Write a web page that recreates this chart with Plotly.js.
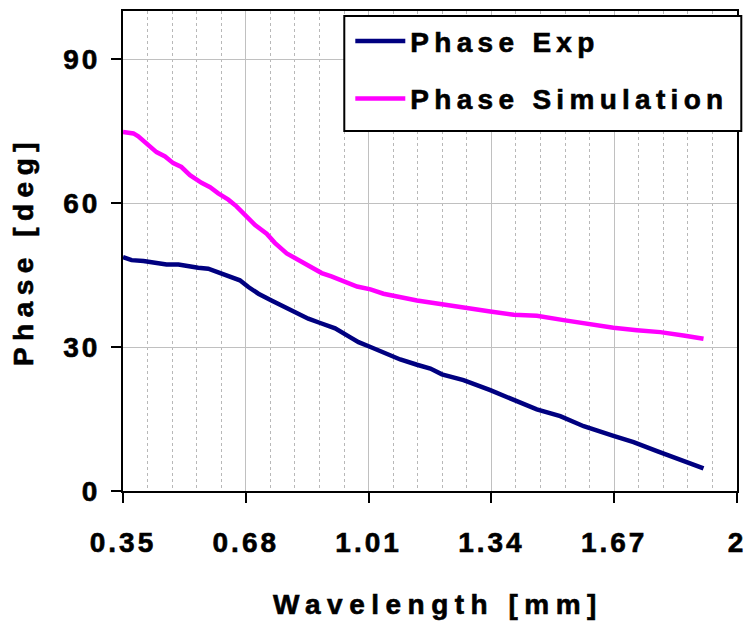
<!DOCTYPE html>
<html>
<head>
<meta charset="utf-8">
<script src="https://cdn.plot.ly/plotly-3.0.1.min.js"></script>
<style>
  html, body { margin: 0; padding: 0; background: #fff; }
  #chart { width: 745px; height: 631px; }
  .xtick text, .ytick text { letter-spacing: 3px; }
  .legendtext { letter-spacing: 5.3px; }
  text.xtitle, text.ytitle { letter-spacing: 6.5px; }
  text.xtitle { translate: 8px 0; }
  .xtick text, .ytick text, .legendtext, text.xtitle, text.ytitle { stroke: #000; stroke-width: 0.6px; }
</style>
</head>
<body>
<div id="chart"></div>
<script>
// Wavelength [mm] and phase [deg]
const expX = [0.35,0.373,0.405,0.436,0.467,0.499,0.525,0.552,0.579,0.606,0.633,0.664,0.687,0.714,0.749,0.776,0.808,0.848,0.88,0.92,0.961,0.983,1.015,1.05,1.095,1.14,1.176,1.207,1.265,1.337,1.4,1.462,1.525,1.588,1.668,1.722,1.785,1.847,1.91];
const expY = [48.75,48.1,47.9,47.5,47.2,47.2,46.8,46.5,46.3,45.6,44.7,43.9,42.5,41.1,39.7,38.7,37.3,35.9,35.0,33.9,32.0,31.0,30.0,28.8,27.4,26.3,25.5,24.3,23.1,21.0,19.0,17.0,15.6,13.5,11.5,10.2,8.3,6.4,4.7];
const simX = [0.35,0.378,0.391,0.413,0.44,0.463,0.485,0.507,0.53,0.561,0.584,0.606,0.633,0.655,0.678,0.705,0.736,0.758,0.79,0.821,0.857,0.884,0.91,0.946,0.979,1.015,1.05,1.14,1.203,1.274,1.337,1.4,1.462,1.534,1.606,1.668,1.731,1.794,1.856,1.91];
const simY = [74.8,74.5,73.9,72.5,70.6,69.7,68.3,67.5,65.8,64.2,63.3,62.0,60.7,59.3,57.6,55.4,53.6,51.7,49.5,48.1,46.7,45.4,44.7,43.5,42.6,42.0,41.1,39.7,38.9,38.0,37.4,36.7,36.5,35.6,34.7,34.0,33.5,33.1,32.4,31.7];
const seriesNames = ['Phase Exp', 'Phase Simulation'];
const xTickVals = [0.35, 0.68, 1.01, 1.34, 1.67, 2];
const xTickText = ['0.35', '0.68', '1.01', '1.34', '1.67', '2'];
const yTickVals = [0, 30, 60, 90];
const yTickText = ['0', '30', '60', '90'];

const FONT = 'Liberation Sans, Arial, Helvetica, sans-serif';

const traces = [
  { x: expX, y: expY, name: seriesNames[0], type: 'scatter', mode: 'lines',
    line: { color: '#000080', width: 4.5 }, legendgroup: 'a' },
  { x: simX, y: simY, name: seriesNames[1], type: 'scatter', mode: 'lines',
    line: { color: '#FF00FF', width: 4.5 }, legendgroup: 'b' }
];

const layout = {
  width: 745, height: 631,
  margin: { l: 123, r: 8, t: 11, b: 140, pad: 0 },
  paper_bgcolor: '#ffffff', plot_bgcolor: '#ffffff',
  font: { family: FONT, size: 28, color: '#000', weight: 700 },
  showlegend: true,
  legend: {
    x: 0.3702, xanchor: 'left', y: 0.989, yanchor: 'top',
    bgcolor: 'rgba(0,0,0,0)', borderwidth: 0,
    font: { family: FONT, size: 28, color: '#000', weight: 700 },
    traceorder: 'grouped', tracegroupgap: 18, itemwidth: 50
  },
  shapes: [
    // legend frame
    { type: 'rect', xref: 'paper', yref: 'paper', x0: 0.3604, x1: 1.007, y0: 0.75, y1: 0.9896,
      line: { color: '#000', width: 2 }, fillcolor: '#ffffff', layer: 'above' }
  ],
  xaxis: {
    range: [0.35, 2.0], tickmode: 'array', tickvals: xTickVals, ticktext: xTickText,
    ticks: 'outside', ticklen: 10, tickwidth: 2, tickcolor: '#000',
    showline: true, linecolor: '#000', linewidth: 2, mirror: true,
    showgrid: true, gridcolor: '#c0c0c0', gridwidth: 1,
    zeroline: false, ticklabelstandoff: 15, ticklabeloverflow: 'allow',
    tickfont: { family: FONT, size: 28, color: '#000', weight: 700 },
    minor: { tick0: 0.35, dtick: 0.066, showgrid: true, gridcolor: '#b8b8b8', gridwidth: 1, griddash: '3px,3px', ticks: '' },
    title: { text: 'Wavelength [mm]', standoff: 38, font: { family: FONT, size: 28, color: '#000', weight: 700 } }
  },
  yaxis: {
    range: [0, 100], tickmode: 'array', tickvals: yTickVals, ticktext: yTickText,
    ticks: 'outside', ticklen: 10, tickwidth: 2, tickcolor: '#000',
    showline: true, linecolor: '#000', linewidth: 2, mirror: true,
    showgrid: true, gridcolor: '#c0c0c0', gridwidth: 1,
    zeroline: false, ticklabelstandoff: 5,
    tickfont: { family: FONT, size: 28, color: '#000', weight: 700 },
    title: { text: 'Phase [deg]', standoff: 21, font: { family: FONT, size: 28, color: '#000', weight: 700 } }
  }
};

Plotly.newPlot('chart', traces, layout, { staticPlot: true, displayModeBar: false });
</script>
</body>
</html>
